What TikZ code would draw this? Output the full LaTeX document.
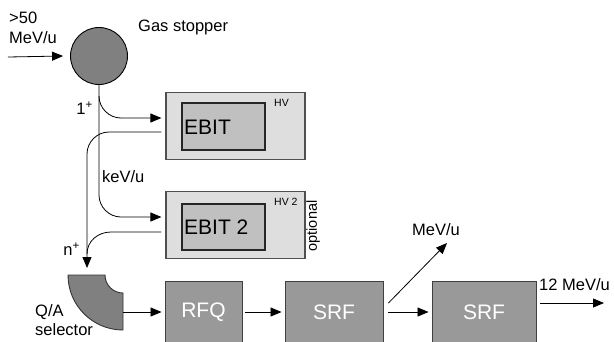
\documentclass[tikz,border=0pt]{standalone}
\usepackage{fontspec}
\setmainfont{Liberation Sans}
\usetikzlibrary{arrows.meta,calc}
\definecolor{outerfill}{RGB}{222,222,222}
\definecolor{innerfill}{RGB}{192,192,192}
\definecolor{accfill}{RGB}{153,153,153}
\definecolor{darkfill}{RGB}{128,128,128}
\definecolor{edgegray}{RGB}{80,80,80}
\begin{document}
\begin{tikzpicture}[x=1pt,y=-1pt,
  arr/.style={-{Triangle[length=11pt,width=9pt]}, line width=0.8pt},
  ln/.style={line width=0.8pt},
  lbl/.style={font=\fontsize{16.5}{19.8}\selectfont, inner sep=0pt},
  bigtxt/.style={font=\fontsize{21}{25}\selectfont, inner sep=0pt},
  hvtxt/.style={font=\fontsize{10.5}{12}\selectfont, inner sep=0pt},
  outerbox/.style={draw=edgegray, fill=outerfill, line width=1.1pt, minimum width=139pt, inner sep=0pt},
  innerbox/.style={draw=black!85, fill=innerfill, line width=1.2pt, minimum width=83pt, inner sep=0pt},
  accbox/.style={draw=black!75, fill=accfill, line width=0.9pt, minimum height=62pt, inner sep=0pt, text=white, font=\fontsize{21}{25}\selectfont},
  gscirc/.style={circle, draw=black, fill=darkfill, line width=0.9pt, minimum size=57pt, inner sep=0pt}
]
\useasboundingbox (0,0) rectangle (614,341);

% gas stopper and input
\node[gscirc] (gs) at (99,56) {};
\node[lbl, anchor=west] (gsl) at (138,27) {Gas stopper};
\node[lbl, anchor=west, align=left] (inl) at (9,28) {>50\\MeV/u};
\coordinate (in0) at (8,57);
\draw[arr] (in0) -- ($(gs.west)+(-7,0)$);

% EBIT boxes
\node[outerbox, minimum height=67pt] (ea) at (235.5,126) {};
\node[innerbox, minimum height=47pt] (eai) at (223.5,126.5) {};
\node[bigtxt, anchor=west] (eat) at (184,127) {EBIT};
\node[hvtxt, anchor=west] (hva) at (274,103) {HV};

\node[outerbox, minimum height=67pt] (eb) at (235.5,225) {};
\node[innerbox, minimum height=46pt] (ebi) at (223.5,227) {};
\node[bigtxt, anchor=west] (ebt) at (184,227) {EBIT 2};
\node[hvtxt, anchor=west] (hvb) at (274,202) {HV 2};
\node[font=\fontsize{14.5}{16}\selectfont, inner sep=0pt, rotate=90] (opt) at (313,226) {optional};

% connector end points at the EBITs
\coordinate (ta) at ($(ea.west)+(-4,-8)$);
\coordinate (ra) at ($(ea.west)+(-4,6)$);
\coordinate (tb) at ($(eb.west)+(-4,-8)$);
\coordinate (rb) at ($(eb.west)+(-4,7)$);
\coordinate (nd) at (87,268);

% labels on the lines
\node[lbl, anchor=east] (one) at (93,108) {1\textsuperscript{+}};
\node[lbl, anchor=west] (kev) at (102,177) {keV/u};
\node[lbl, anchor=east] (nplus) at (80,249) {n\textsuperscript{+}};

% 1+ beam to EBITs
\draw[arr] (gs.south) -- (99,195) .. controls (99,207) and (109,217) .. (121,217) -- (tb);
\draw[arr] (99,96) .. controls (99,108) and (109,118) .. (121,118) -- (ta);
% n+ return
\draw[arr] (ra) -- (109,132) .. controls (97,132) and (87,142) .. (87,154) -- (nd);
\draw[ln] (rb) -- (111,232) .. controls (98,232) and (87,241) .. (87,254);

% Q/A selector
\filldraw[fill=darkfill, draw=black!80, line width=0.9pt] (68,275) -- (105,275) arc[start angle=180, end angle=90, radius=18] -- (123,330) arc[start angle=90, end angle=180, radius=55] -- cycle;
\coordinate (qao) at (123,312);
\node[lbl, anchor=west, align=left] (qal) at (35,320) {Q/A\\selector};

% accelerator chain
\node[accbox, minimum width=77pt] (rfq) at (203.5,312) {RFQ};
\node[accbox, minimum width=98pt] (srfa) at (334,312) {SRF};
\node[accbox, minimum width=104pt] (srfb) at (484,312) {SRF};

\draw[arr] (qao) -- ($(rfq.west)+(-3,0)$);
\draw[arr] ($(rfq.east)+(3,0)$) -- ($(srfa.west)+(-3,0)$);
\draw[arr] ($(srfa.east)+(5,0)$) -- ($(srfb.west)+(-3,0)$);

\node[lbl] (mev) at (436,230) {MeV/u};
\coordinate (dtip) at (447,243);
\draw[arr] ($(srfa.east)+(5,-9)$) -- (dtip);

\node[lbl, anchor=west] (twelve) at (539,285) {12 MeV/u};
\coordinate (outE) at (604,303);
\draw[arr] ($(srfb.east)+(4,-9)$) -- (outE);
\end{tikzpicture}
\end{document}
